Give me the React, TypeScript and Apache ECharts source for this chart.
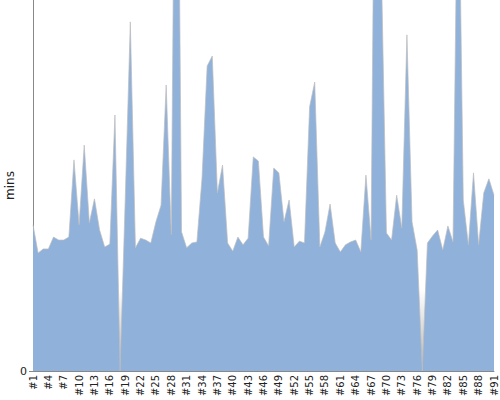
import React, { useEffect, useRef } from "react";
import * as echarts from "echarts";

const categories: string[] = Array.from({ length: 91 }, (_, i) => "#" + (i + 1));

const minutes: number[] = [
  39.4, 31.8, 32.9, 32.9, 36.1, 35.3, 35.3, 36.1, 56.9, 39.4,
  60.9, 39.9, 46.4, 38.0, 33.4, 34.2, 69.0, 0, 46.0, 94.1,
  33.2, 35.8, 35.3, 34.5, 40.2, 44.7, 77.1, 36.7, 210, 37.5,
  33.2, 34.5, 34.8, 52.0, 82.2, 84.9, 48.0, 55.5, 34.5, 32.3,
  36.1, 34.0, 35.8, 57.7, 56.6, 36.1, 33.7, 54.7, 53.4, 40.2,
  46.1, 33.4, 35.0, 34.5, 71.2, 77.9, 33.4, 37.5, 45.0, 34.5,
  32.1, 34.0, 34.8, 35.3, 32.1, 52.8, 35.3, 200, 110, 37.2,
  35.3, 47.4, 38.5, 90.6, 40.2, 32.6, 0, 34.5, 36.4, 38.0,
  32.6, 39.1, 34.8, 150, 46.1, 34.0, 53.4, 34.0, 48.0, 51.8,
  47.4,
];

const yTicks: number[] = [0, 100];

export default function App() {
  const ref = useRef<HTMLDivElement>(null);
  useEffect(() => {
    if (!ref.current) return;
    const chart = echarts.init(ref.current, undefined, { renderer: "svg" });
    chart.setOption({
      animation: false,
      backgroundColor: "#ffffff",
      textStyle: { fontFamily: "DejaVu Sans" },
      grid: {
        left: 33,
        right: 6,
        top: 0,
        bottom: 29,
        containLabel: false,
        outerBoundsMode: "none",
        show: true,
        borderWidth: 0,
        backgroundColor: new echarts.graphic.LinearGradient(0, 0, 0, 1, [
          { offset: 0, color: "#ffffff" },
          { offset: 0.78, color: "#ffffff" },
          { offset: 1, color: "#b4b4b4" },
        ]),
      },
      xAxis: {
        type: "category",
        data: categories,
        boundaryGap: false,
        axisLine: { show: true, lineStyle: { color: "#888888", width: 1 } },
        axisTick: { show: false },
        axisLabel: {
          interval: 2,
          rotate: 90,
          fontSize: 10,
          color: "#222222",
          margin: 4,
          fontFamily: "DejaVu Sans",
        },
        splitLine: { show: false },
      },
      yAxis: {
        type: "value",
        min: yTicks[0],
        max: yTicks[1],
        interval: yTicks[1] - yTicks[0],
        name: "mins",
        nameLocation: "middle",
        nameGap: 17,
        nameMoveOverlap: false,
        nameTextStyle: { fontSize: 12, color: "#222222", fontFamily: "DejaVu Sans" },
        axisLine: { show: true, lineStyle: { color: "#888888", width: 1 } },
        axisTick: { show: true, length: 4, lineStyle: { color: "#888888" } },
        axisLabel: {
          fontSize: 11,
          color: "#222222",
          margin: 6,
          showMaxLabel: false,
          formatter: (v: number) => (v === 0 ? "0" : ""),
        },
        splitLine: { show: false },
      },
      series: [
        {
          type: "line",
          data: minutes,
          showSymbol: false,
          symbol: "none",
          clip: true,
          lineStyle: { color: "rgba(190,190,190,0.7)", width: 1 },
          areaStyle: { color: "#8fb1da", opacity: 1 },
        },
      ],
    });
    return () => chart.dispose();
  }, []);
  return (
    <div
      ref={ref}
      style={{ position: "fixed", left: 0, top: 0, width: 500, height: 400 }}
    />
  );
}
